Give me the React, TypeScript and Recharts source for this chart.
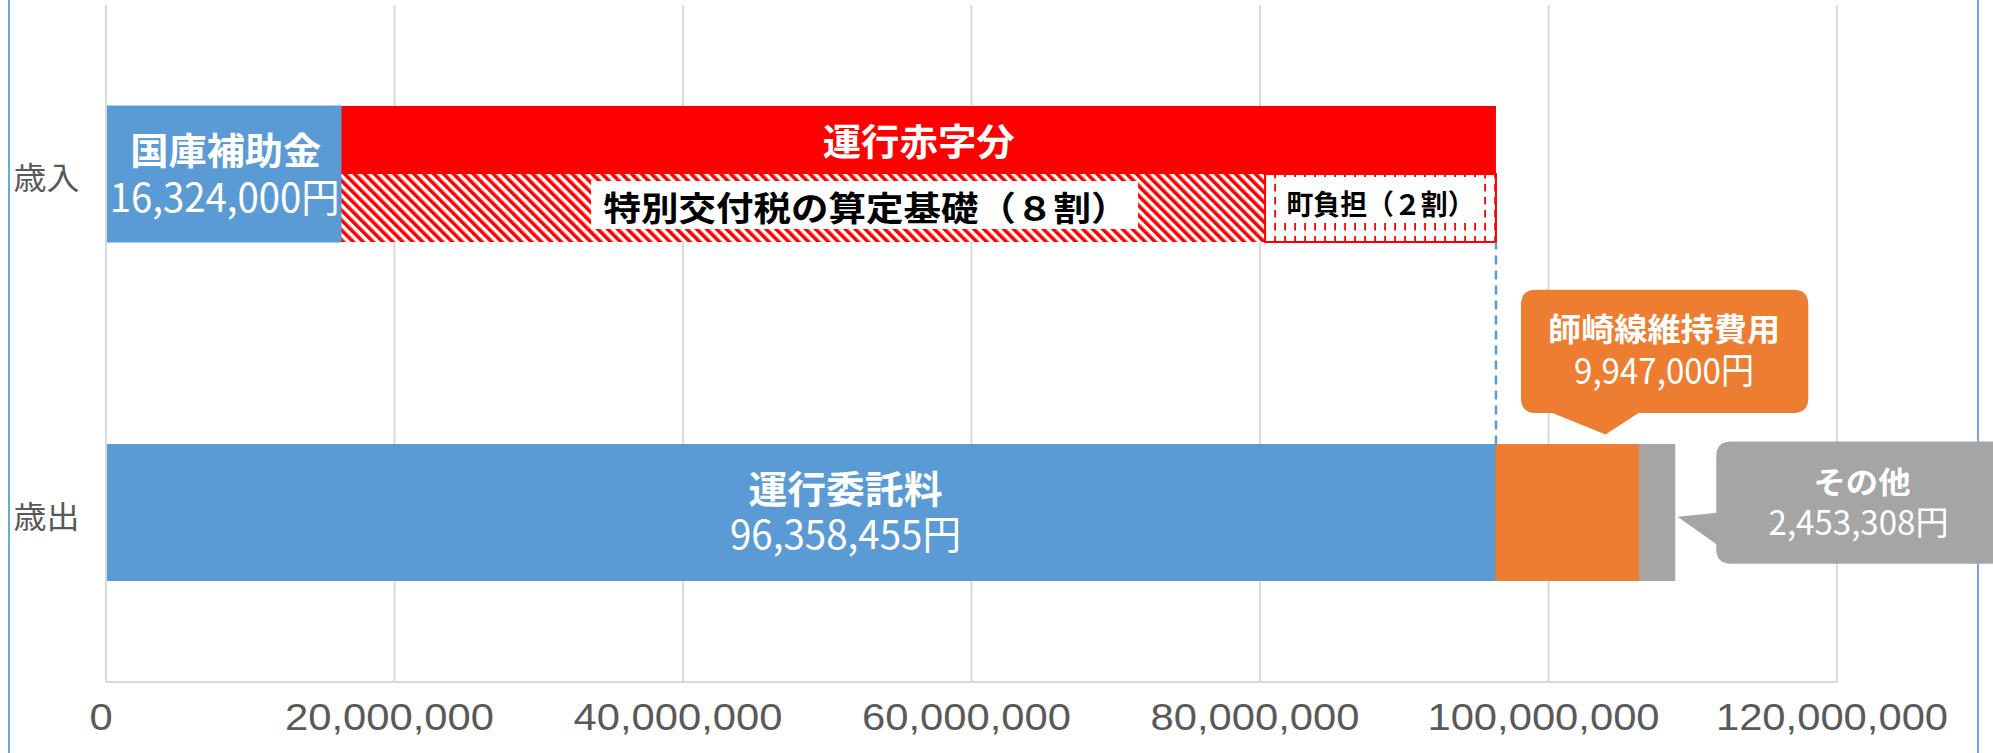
import { BarChart, Bar, XAxis, YAxis, CartesianGrid, LabelList } from 'recharts';

const categories = ['歳入', '歳出'];
// 国庫補助金 (歳入) / 運行委託料 (歳出)
const blueValues = [16324000, 96358455];
// 運行赤字分
const deficitValues = [80034455, 0];
// 特別交付税の算定基礎（８割）
const special8Values = [64027564, 0];
// 町負担（２割）
const town2Values = [16006891, 0];
// 師崎線維持費用
const shizakiValues = [0, 9947000];
// その他
const otherValues = [0, 2453308];
const xTicks = [0, 20000000, 40000000, 60000000, 80000000, 100000000, 120000000];

const data = categories.map((name, i) => ({
  name,
  topBlue: blueValues[i],
  topRed: deficitValues[i],
  topOrange: shizakiValues[i],
  topGray: otherValues[i],
  botBlue: blueValues[i],
  botHatch: special8Values[i],
  botDot: town2Values[i],
  botOrange: shizakiValues[i],
  botGray: otherValues[i],
}));

const JP = "'Noto Sans CJK JP', 'Noto Sans', sans-serif";
const BLUE = '#5b9bd5';
const RED = '#ff0000';
const ORANGE = '#ed7d31';
const GRAY = '#a5a5a5';
const GRID = '#d9d9d9';
const BAR = 68;

const fmt = (v: number) => v.toLocaleString('en-US');

function box(p: any) {
  const vb = p.viewBox || {};
  const raw = p.value;
  const v = Array.isArray(raw) ? Number(raw[1]) - Number(raw[0]) : Number(raw);
  return {
    x: Number(p.x ?? vb.x),
    y: Number(p.y ?? vb.y),
    w: Number(p.width ?? vb.width),
    h: Number(p.height ?? vb.height),
    i: p.index,
    v,
  };
}

function T({ x, y, text, size, w, fill = '#fff', weight = 700 }: any) {
  return (
    <text
      x={x}
      y={y}
      textAnchor="middle"
      dominantBaseline="central"
      fontSize={size}
      fontWeight={weight}
      fontFamily={JP}
      fill={fill}
      textLength={w}
      lengthAdjust="spacingAndGlyphs"
    >
      {text}
    </text>
  );
}

// two-line label as one text element (title bold, amount regular)
function T2({ x, y1, y2, title, amount, s1, s2, w1, w2, x2 }: any) {
  return (
    <text textAnchor="middle" dominantBaseline="central" fontFamily={JP} fill="#fff">
      <tspan x={x} y={y1} fontSize={s1} fontWeight={700} textLength={w1} lengthAdjust="spacingAndGlyphs">
        {title}
      </tspan>
      <tspan x={x2 ?? x} y={y2} fontSize={s2} fontWeight={400} textLength={w2} lengthAdjust="spacingAndGlyphs">
        {amount}
      </tspan>
    </text>
  );
}

function bubble(l: number, t: number, r: number, b: number, rad: number) {
  return `M${l + rad},${t} H${r - rad} Q${r},${t} ${r},${t + rad} V${b - rad} Q${r},${b} ${r - rad},${b} H${l + rad} Q${l},${b} ${l},${b - rad} V${t + rad} Q${l},${t} ${l + rad},${t} Z`;
}

const XTick = (p: any) => (
  <text
    transform={`translate(${p.x - 5},${p.y + 36}) scale(1.16,1)`}
    textAnchor="middle"
    dominantBaseline="central"
    fontSize={36}
    fontFamily="'Liberation Sans', Arial, sans-serif"
    fill="#595959"
  >
    {fmt(p.payload.value)}
  </text>
);

const YTick = (p: any) => (
  <T x={p.x - 59.5} y={p.y + 1.5} text={p.payload.value} size={31} w={66} fill="#595959" weight={400} />
);

const blueLabel = (p: any) => {
  const { x, y, w, v } = box(p);
  if (v < 50000000) {
    return (
      <T2 x={x + w / 2 + 2} x2={x + w / 2 + 1} y1={y - 25} y2={y + 21} title="国庫補助金" amount="16,324,000円" s1={37} s2={40} w1={191} w2={230} />
    );
  }
  return (
    <g>
      <line x1={x + w} y1={y - BAR} x2={x + w} y2={y - BAR - 202} stroke={BLUE} strokeWidth={2.5} strokeDasharray="9 6" />
      <T2 x={x + w * 0.532} y1={y - 27} y2={y + 19} title="運行委託料" amount="96,358,455円" s1={38} s2={40} w1={194} w2={231} />
    </g>
  );
};

const redLabel = (p: any) => {
  const { x, y, w, h, v } = box(p);
  if (!(v > 0)) return null;
  return <T x={x + w / 2} y={y + h / 2} text="運行赤字分" size={37} w={192} />;
};

const hatchLabel = (p: any) => {
  const { x, y, w, h, v } = box(p);
  if (!(v > 0)) return null;
  const cx = x + w * 0.568;
  const cy = y + h / 2 - 2;
  return (
    <g>
      <rect x={cx - 275} y={cy - 25} width={547} height={48} fill="#fff" />
      <T x={cx} y={cy} text="特別交付税の算定基礎（８割）" size={34} w={525} fill="#000" />
    </g>
  );
};

const dotLabel = (p: any) => {
  const { x, y, w, h, v } = box(p);
  if (!(v > 0)) return null;
  const cx = x + w / 2;
  const cy = y + h / 2 - 5;
  return (
    <g>
      <rect x={cx - 98} y={cy - 26} width={197} height={43} fill="#fff" />
      <T x={cx} y={cy} text="町負担（２割）" size={28} w={188} fill="#000" />
    </g>
  );
};

const orangeCallout = (p: any) => {
  const { x, y, v } = box(p);
  if (!(v > 0)) return null;
  const l = x + 25;
  const r = x + 312.3;
  const t = y - 154.75;
  const b = y - 31.5;
  return (
    <g>
      <path d={bubble(l, t, r, b, 15)} fill={ORANGE} />
      <path d={`M${x + 54},${b - 1} L${x + 109.6},${y - 10} L${x + 144},${b - 1} Z`} fill={ORANGE} />
      <T2 x={x + 168.1} y1={y - 117.25} y2={y - 76.75} title="師崎線維持費用" amount="9,947,000円" s1={32} s2={36} w1={232} w2={180} />
    </g>
  );
};

const grayCallout = (p: any) => {
  const { x, y, w, v } = box(p);
  if (!(v > 0)) return null;
  const rx = x + w;
  const l = rx + 41.4;
  return (
    <g>
      <path d={bubble(l, y - 3, rx + 333, y + 119.25, 15)} fill={GRAY} />
      <path d={`M${l + 1},${y + 68.25} L${rx + 2.7},${y + 72.25} L${l + 1},${y + 100.25} Z`} fill={GRAY} />
      <T2 x={rx + 187.2} x2={rx + 183.7} y1={y + 35.25} y2={y + 75.75} title="その他" amount="2,453,308円" s1={30} s2={34} w1={97} w2={180} />
    </g>
  );
};

export default function App() {
  return (
    <div style={{ position: 'absolute', left: 0, top: 0, width: 1993, height: 753, background: '#fff' }}>
      <div
        style={{
          position: 'absolute',
          left: 8,
          top: 0,
          width: 1967,
          height: 753,
          borderLeft: '2px solid #6fa5dc',
          borderRight: '2px solid #6fa5dc',
        }}
      />
      <div style={{ position: 'absolute', left: 0, top: 0 }}>
        <BarChart
          width={1993}
          height={753}
          data={data}
          layout="vertical"
          margin={{ top: 5, right: 156, bottom: 0, left: 0 }}
          barSize={BAR}
          barGap={0}
        >
          <defs>
            <pattern id="hatch" width={7} height={7} patternUnits="userSpaceOnUse" patternTransform="rotate(-45)">
              <rect width={7} height={7} fill="#fff" />
              <rect width={3.6} height={7} fill={RED} />
            </pattern>
            <pattern id="dots" width={10} height={13} patternUnits="userSpaceOnUse">
              <rect width={10} height={13} fill="#fff" />
              <rect x={4.2} y={2} width={1.8} height={7.5} fill={RED} />
            </pattern>
          </defs>
          <CartesianGrid horizontal={false} stroke={GRID} strokeWidth={2} />
          <XAxis
            type="number"
            domain={[0, 120000000]}
            ticks={xTicks}
            interval={0}
            height={71}
            tickSize={0}
            tickMargin={0}
            tickLine={false}
            axisLine={{ stroke: GRID, strokeWidth: 2 }}
            tick={<XTick />}
          />
          <XAxis
            xAxisId="top"
            orientation="top"
            type="number"
            domain={[0, 120000000]}
            height={0}
            tick={false}
            tickLine={false}
            axisLine={{ stroke: GRID, strokeWidth: 2 }}
          />
          <YAxis
            type="category"
            dataKey="name"
            width={106}
            tickSize={0}
            tickMargin={0}
            tickLine={false}
            axisLine={{ stroke: GRID, strokeWidth: 2 }}
            tick={<YTick />}
          />
          <Bar dataKey="topBlue" stackId="top" fill={BLUE} stroke={BLUE} strokeWidth={1} isAnimationActive={false} />
          <Bar dataKey="topRed" stackId="top" fill={RED} isAnimationActive={false}>
            <LabelList content={redLabel} />
          </Bar>
          <Bar dataKey="topOrange" stackId="top" fill={ORANGE} stroke={ORANGE} strokeWidth={1} isAnimationActive={false}>
            <LabelList content={orangeCallout} />
          </Bar>
          <Bar dataKey="topGray" stackId="top" fill={GRAY} stroke={GRAY} strokeWidth={1} isAnimationActive={false}>
            <LabelList content={grayCallout} />
          </Bar>
          <Bar dataKey="botBlue" stackId="bot" fill={BLUE} stroke={BLUE} strokeWidth={1} isAnimationActive={false}>
            <LabelList content={blueLabel} />
          </Bar>
          <Bar dataKey="botHatch" stackId="bot" fill="url(#hatch)" isAnimationActive={false}>
            <LabelList content={hatchLabel} />
          </Bar>
          <Bar dataKey="botDot" stackId="bot" fill="url(#dots)" stroke={RED} strokeWidth={2} isAnimationActive={false}>
            <LabelList content={dotLabel} />
          </Bar>
          <Bar dataKey="botOrange" stackId="bot" fill={ORANGE} stroke={ORANGE} strokeWidth={1} isAnimationActive={false} />
          <Bar dataKey="botGray" stackId="bot" fill={GRAY} stroke={GRAY} strokeWidth={1} isAnimationActive={false} />
        </BarChart>
      </div>
    </div>
  );
}
